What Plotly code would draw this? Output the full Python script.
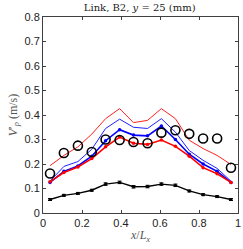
import plotly.graph_objects as go

x = [0.036, 0.107, 0.179, 0.25, 0.321, 0.393, 0.464, 0.536, 0.607, 0.679, 0.75, 0.821, 0.893, 0.964]

exp_circles = [0.161, 0.245, 0.275, 0.249, 0.300, 0.298, 0.290, 0.285, 0.328, 0.338, 0.323, 0.304, 0.304, 0.185]
black_line = [0.055, 0.072, 0.080, 0.093, 0.118, 0.125, 0.107, 0.108, 0.118, 0.113, 0.090, 0.075, 0.067, 0.055]
black_err = [0.004, 0.004, 0.004, 0.004, 0.005, 0.005, 0.005, 0.005, 0.005, 0.005, 0.004, 0.004, 0.004, 0.004]
red_thick = [0.128, 0.165, 0.188, 0.222, 0.270, 0.310, 0.285, 0.280, 0.298, 0.272, 0.232, 0.185, 0.160, 0.125]
blue_thick = [0.125, 0.170, 0.192, 0.232, 0.295, 0.340, 0.318, 0.315, 0.355, 0.300, 0.240, 0.200, 0.170, 0.125]
blue_thin = [0.130, 0.190, 0.210, 0.260, 0.345, 0.383, 0.350, 0.345, 0.385, 0.330, 0.255, 0.215, 0.182, 0.130]
red_thin = [0.193, 0.235, 0.270, 0.322, 0.385, 0.426, 0.369, 0.378, 0.426, 0.385, 0.297, 0.263, 0.235, 0.198]

x_ticks = [0, 0.2, 0.4, 0.6, 0.8, 1]
x_ticktext = ["0", "0.2", "0.4", "0.6", "0.8", "1"]
y_ticks = [0, 0.1, 0.2, 0.3, 0.4, 0.5, 0.6, 0.7, 0.8]
y_ticktext = ["0", "0.1", "0.2", "0.3", "0.4", "0.5", "0.6", "0.7", "0.8"]

fig = go.Figure()
fig.add_trace(go.Scatter(x=x, y=red_thin, mode="lines", line=dict(color="#ff2020", width=1)))
fig.add_trace(go.Scatter(x=x, y=blue_thin, mode="lines", line=dict(color="#2020ff", width=1)))
fig.add_trace(go.Scatter(x=x, y=blue_thick, mode="lines+markers", line=dict(color="#0000ff", width=1.6),
                         marker=dict(size=3.5, color="#0000ff")))
fig.add_trace(go.Scatter(x=x, y=red_thick, mode="lines+markers", line=dict(color="#ff0000", width=1.6),
                         marker=dict(size=3.5, color="#ff0000")))
fig.add_trace(go.Scatter(x=x, y=black_line, mode="lines+markers", line=dict(color="black", width=1.4),
                         marker=dict(size=3, color="black"),
                         error_y=dict(type="data", array=black_err, color="black", thickness=1, width=2)))
fig.add_trace(go.Scatter(x=x, y=exp_circles, mode="markers",
                         marker=dict(symbol="circle-open", size=9, color="black", line=dict(width=1.6))))

axis_common = dict(showgrid=False, zeroline=False, showline=True, linecolor="#404040", linewidth=1,
                   mirror="ticks", ticks="inside", ticklen=3, tickcolor="#404040", automargin=False,
                   tickfont=dict(family="Liberation Sans, Arial", size=11, color="#222222"))
fig.update_layout(
    width=243, height=249,
    margin=dict(l=43, r=5, t=17, b=36),
    plot_bgcolor="white", paper_bgcolor="white",
    showlegend=False,
    title=dict(text="Link, B2, <i>y</i> = 25 (mm)", x=0.575, xanchor="center", y=0.968, yanchor="middle",
               automargin=False,
               font=dict(family="DejaVu Serif, Liberation Serif", size=10, color="#222222")),
    xaxis=dict(range=[0, 1], tickvals=x_ticks, ticktext=x_ticktext,
               title=dict(text="<i>x</i>/<i>L<sub>x</sub></i>", standoff=2,
                          font=dict(family="Liberation Serif, DejaVu Serif", size=12, color="#555555")),
               **axis_common),
    yaxis=dict(range=[0, 0.8], tickvals=y_ticks, ticktext=y_ticktext,
               title=dict(text="<i>V</i>′<sub><i>p</i></sub> (m/s)", standoff=4,
                          font=dict(family="Liberation Serif, DejaVu Serif", size=12, color="#555555")),
               **axis_common),
)
fig.write_html("out.html", config={"displayModeBar": False},
               post_script="document.body.style.margin='0';document.body.style.overflow='hidden';")
